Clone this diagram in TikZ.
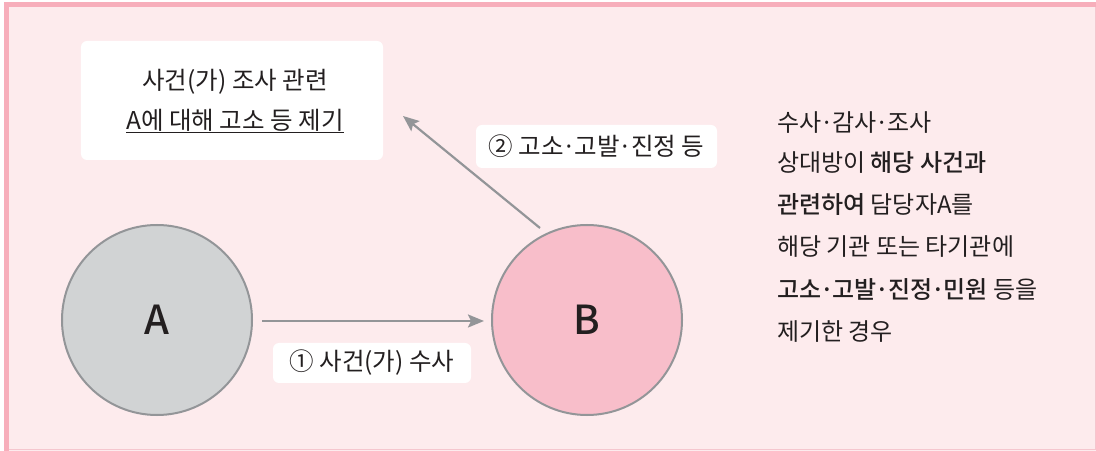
\documentclass[tikz,border=0pt]{standalone}
\usepackage{fontspec}
\setmainfont{Noto Sans CJK KR}[BoldFont={Noto Sans CJK KR Medium}]
\usetikzlibrary{arrows.meta}
\definecolor{bgpink}{HTML}{FDEBED}
\definecolor{bandpink}{HTML}{F7AEBB}
\definecolor{edgepink}{HTML}{F5C6CE}
\definecolor{cgray}{HTML}{D1D3D4}
\definecolor{cpink}{HTML}{F8BECA}
\definecolor{lgray}{HTML}{939598}
\definecolor{txt}{HTML}{231F20}
\newcommand{\md}{\kern-0.05em·\kern-0.05em}
\tikzset{
  circ/.style={circle, draw=lgray, line width=2bp, minimum size=190bp, inner sep=0pt, text=txt, font=\fontsize{40bp}{46bp}\selectfont\bfseries},
  wbox/.style={fill=white, rounded corners=6bp, inner sep=0pt, text=txt, font=\fontsize{24.5bp}{28bp}\selectfont},
  ltext/.style={text=txt, font=\fontsize{24.5bp}{28bp}\selectfont, inner sep=0pt},
  conn/.style={draw=lgray, line width=2.2bp, -{Stealth[length=16bp,width=13bp,inset=3bp]}},
  rtext/.style={anchor=west, text=txt, font=\fontsize{24bp}{28bp}\selectfont, inner sep=0pt}
}
\begin{document}
\begin{tikzpicture}[x=1bp,y=-1bp]
\useasboundingbox (0,0) rectangle (1096,451);
\fill[white] (0,0) rectangle (1096,451);
\fill[bgpink] (4,2) rectangle (1096,451);
\draw[edgepink, line width=1.2bp] (4,449.5) -- (1095.2,449.5) -- (1095.2,2);
\fill[bandpink] (4,2) rectangle (1096,7);
\fill[bandpink] (4,2) rectangle (9,451);
% white box top-left
\node[wbox, minimum width=302bp, minimum height=119bp] (box) at (232,100.5) {};
\node[ltext] (l1) at (235,82) {사건(가) 조사 관련};
\node[ltext] (l2) at (235,121) {\underline{A에 대해 고소 등 제기}};
% circles
\node[circ, fill=cgray] (A) at (157,320) {A};
\node[circ, fill=cpink] (B) at (587,320) {B};
% arrows
\coordinate (a1s) at (262,321);
\coordinate (a1e) at (484,321);
\draw[conn] (a1s) -- (a1e);
\coordinate (a2s) at (540,228);
\coordinate (a2e) at (403,116);
\draw[conn] (a2s) -- (a2e);
% labels
\node[wbox, minimum width=198bp, minimum height=40bp] (lab1) at (372,363) {① 사건(가) 수사};
\node[wbox, minimum width=241bp, minimum height=43bp] (lab2) at (596.5,146.5) {② 고소\md 고발\md 진정 등};
% right text
\node[rtext] (r1) at (777,123) {수사\md 감사\md 조사};
\node[rtext] (r2) at (777,163) {상대방이 \textbf{해당 사건과}};
\node[rtext] (r3) at (777,205) {\textbf{관련하여} 담당자A를};
\node[rtext] (r4) at (777,247) {해당 기관 또는 타기관에};
\node[rtext] (r5) at (777,290) {\textbf{고소\md 고발\md 진정\md 민원} 등을};
\node[rtext] (r6) at (777,332) {제기한 경우};
\end{tikzpicture}
\end{document}
